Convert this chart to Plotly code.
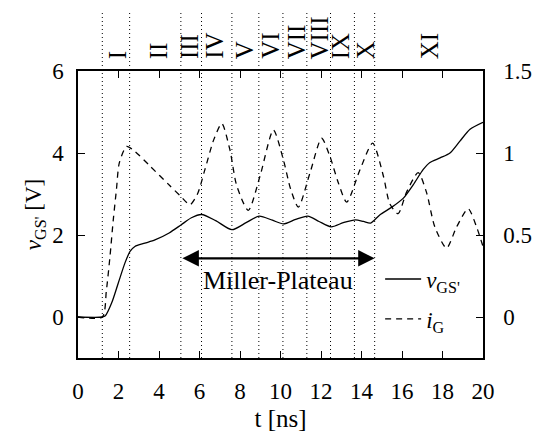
import plotly.graph_objects as go

# ---- data ----
t_v = [0, 1.2, 1.35, 1.66, 1.99, 2.32, 2.57, 2.81, 3.3, 3.8, 4.5, 5.1, 5.6, 6.1, 6.8, 7.6,
       8.3, 8.95, 9.6, 10.15, 10.75, 11.35, 11.9, 12.5, 13.1, 13.7, 14.1, 14.45, 14.9,
       15.5, 16.07, 16.56, 17.05, 17.38, 17.88, 18.37, 18.86, 19.36, 20]
v_gs = [0, 0, 0.03, 0.34, 0.83, 1.32, 1.6, 1.72, 1.8, 1.88, 2.05, 2.25, 2.42, 2.5, 2.35, 2.13,
        2.3, 2.46, 2.36, 2.27, 2.38, 2.46, 2.33, 2.2, 2.3, 2.37, 2.33, 2.29, 2.49,
        2.68, 2.9, 3.23, 3.6, 3.77, 3.88, 4.0, 4.29, 4.58, 4.75]

t_i = [0, 1.2, 1.4, 1.58, 1.74, 1.9, 2.04, 2.4, 2.81, 3.56, 4.54, 5.04, 5.53, 5.9, 6.27, 6.7,
       7.1, 7.5, 7.84, 8.41, 8.99, 9.65, 10.14, 10.5, 10.88, 11.46, 12.03, 12.44, 12.85,
       13.27, 13.9, 14.55, 15.08, 15.4, 15.81, 16.22, 16.8, 17.21, 17.62, 18.2, 18.7,
       19.27, 19.68, 20]
i_g = [0, 0, 0.16, 0.37, 0.59, 0.78, 0.94, 1.04, 1.01, 0.92, 0.8, 0.74, 0.685, 0.75, 0.9, 1.08,
       1.18, 1.02, 0.8, 0.65, 0.86, 1.14, 0.96, 0.78, 0.67, 0.88, 1.09, 0.98, 0.82,
       0.7, 0.89, 1.06, 0.86, 0.69, 0.63, 0.76, 0.88, 0.76, 0.55, 0.42, 0.55,
       0.66, 0.55, 0.43]

phase_lines = [1.2, 2.55, 5.08, 6.1, 7.6, 8.93, 10.12, 11.3, 12.47, 13.65, 14.65]
phase_labels = ["I", "II", "III", "IV", "V", "VI", "VII", "VIII", "IX", "X", "XI"]
phase_label_x = [1.99, 3.99, 5.51, 6.76, 8.26, 9.52, 10.81, 11.9, 13.0, 14.24, 17.4]

x_ticks = list(range(0, 21, 2))
y_ticks = [0, 2, 4, 6]
y2_ticks = [0, 0.5, 1, 1.5]

plateau_start, plateau_end, plateau_level = 5.08, 14.65, 1.43

FONT = "Liberation Serif"
FS = 23

fig = go.Figure()
fig.add_trace(go.Scatter(x=t_v, y=v_gs, mode="lines", name="<i>v</i><sub>GS'</sub>",
                         legendgroup="a",
                         line=dict(color="black", width=1.3, shape="spline", smoothing=0.7)))
fig.add_trace(go.Scatter(x=t_i, y=i_g, mode="lines", name="<i>i</i><sub>G</sub>", yaxis="y2",
                         legendgroup="b",
                         line=dict(color="black", width=1.3, dash="6px,5px", shape="spline",
                                   smoothing=0.7)))

for xv in phase_lines:
    fig.add_shape(type="line", xref="x", yref="paper", x0=xv, x1=xv, y0=0, y1=1.2125,
                  line=dict(color="black", width=1, dash="1px,3px"))

for lab, xv in zip(phase_labels, phase_label_x):
    fig.add_annotation(x=xv, y=1.035, xref="x", yref="paper", text=lab, showarrow=False,
                       textangle=-90, xanchor="center", yanchor="bottom",
                       font=dict(family=FONT, size=25, color="black"))

# Miller plateau double arrow
fig.add_annotation(x=plateau_end, y=plateau_level, ax=plateau_start, ay=plateau_level,
                   xref="x", yref="y", axref="x", ayref="y", text="", showarrow=True,
                   arrowhead=2, startarrowhead=2, arrowside="end+start", arrowsize=1.5,
                   startarrowsize=1.5, arrowwidth=2.2, arrowcolor="black", standoff=0,
                   startstandoff=0)
fig.add_annotation(x=(plateau_start + plateau_end) / 2, y=0.9, xref="x", yref="y",
                   text="Miller-Plateau", showarrow=False,
                   font=dict(family=FONT, size=26, color="black"))

axis_common = dict(showgrid=False, zeroline=False, showline=True, linecolor="black",
                   linewidth=1.5, ticks="inside", ticklen=7, tickcolor="black", tickwidth=1,
                   automargin=False,
                   tickfont=dict(family=FONT, size=FS, color="black"))

fig.update_layout(
    width=535, height=432,
    margin=dict(l=78, r=52, t=71, b=74),
    paper_bgcolor="white", plot_bgcolor="white",
    font=dict(family=FONT, size=FS, color="black"),
    xaxis=dict(range=[0, 20], tickvals=x_ticks, mirror="ticks",
               title=dict(text="t [ns]", font=dict(family=FONT, size=25), standoff=12),
               ticklabelstandoff=12, **axis_common),
    yaxis=dict(range=[-1, 6], tickvals=y_ticks, mirror=True,
               title=dict(text="<i>v</i><sub>GS'</sub> [V]", font=dict(family=FONT, size=FS),
                          standoff=4),
               ticklabelstandoff=8, **axis_common),
    yaxis2=dict(range=[-0.25, 1.5], tickvals=y2_ticks, overlaying="y", side="right",
                ticklabelstandoff=14, **axis_common),
    legend=dict(x=0.746, y=0.35, xanchor="left", yanchor="top", bgcolor="rgba(0,0,0,0)",
                font=dict(family=FONT, size=FS, color="black"), itemwidth=36,
                tracegroupgap=7),
    showlegend=True,
)

fig.write_html("out.html")
